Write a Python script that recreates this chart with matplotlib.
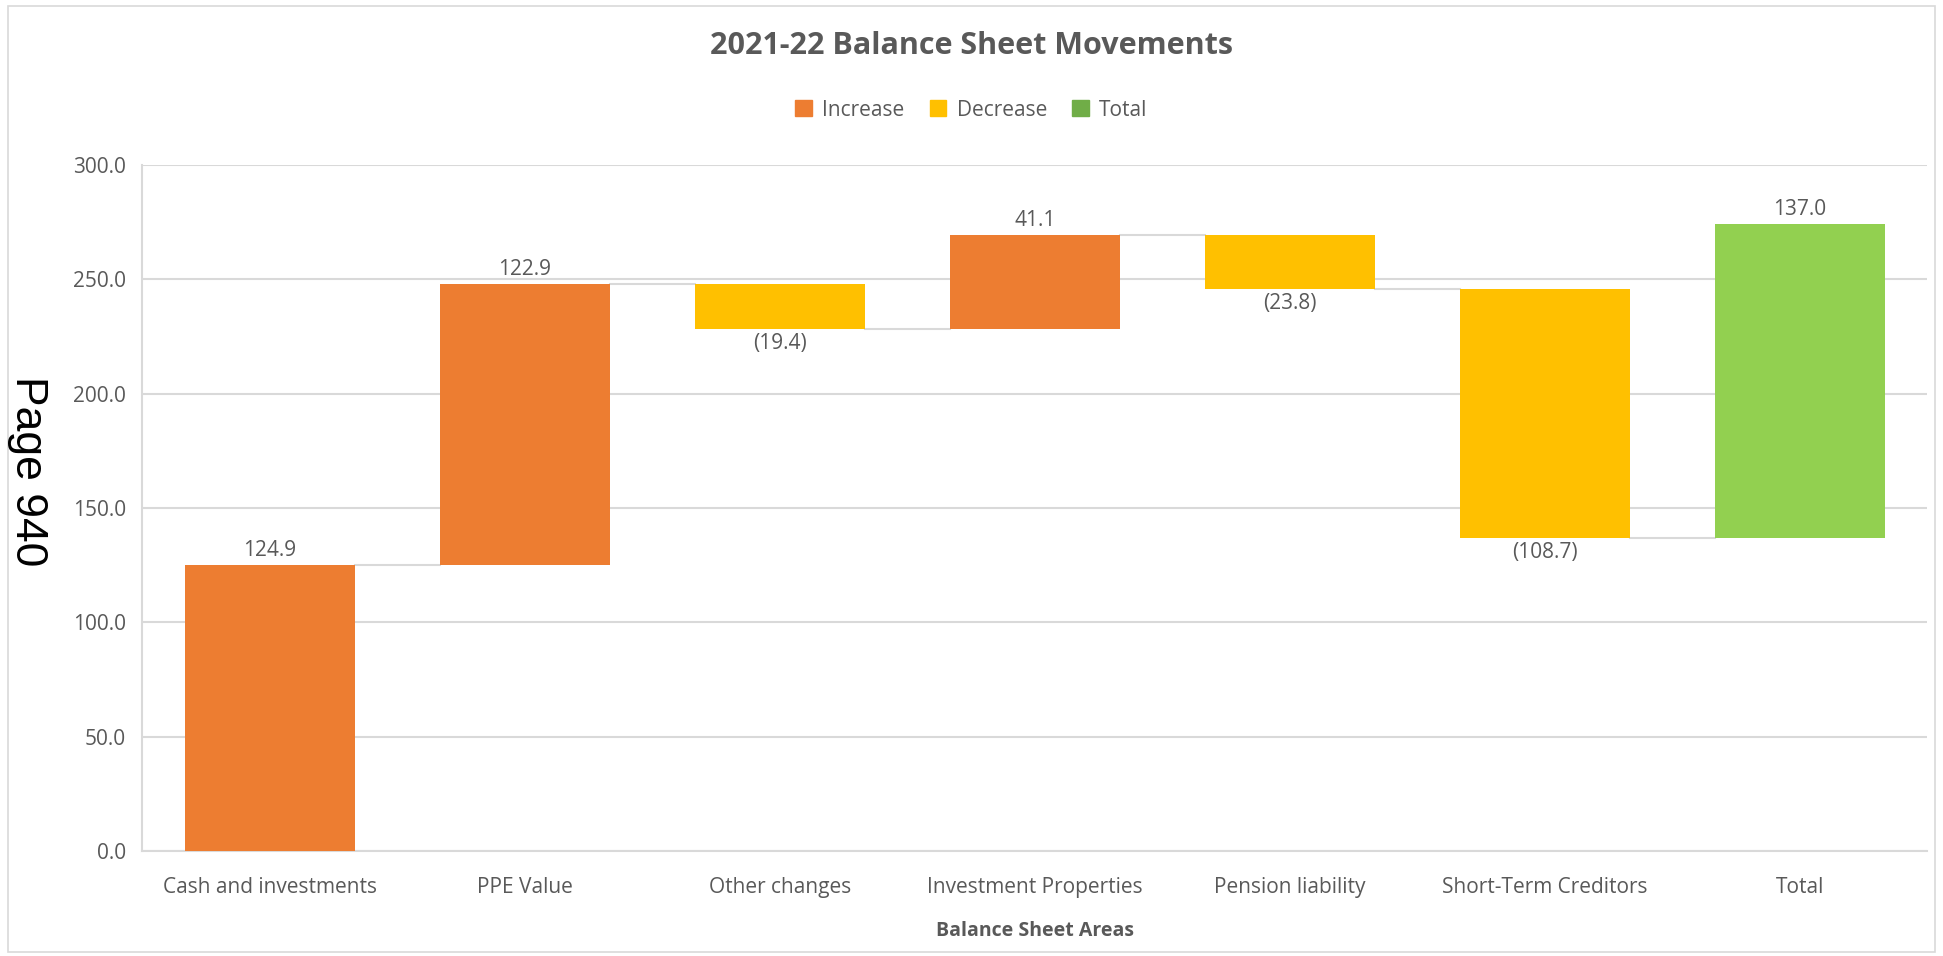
import matplotlib
matplotlib.use("Agg")
import matplotlib.pyplot as plt
from matplotlib.patches import Rectangle, Patch
import numpy as np

categories = ["Cash and investments", "PPE Value", "Other changes",
              "Investment Properties", "Pension liability",
              "Short-Term Creditors", "Total"]
movements = [124.9, 122.9, -19.4, 41.1, -23.8, -108.7]
total_value = 137.0
y_ticks = [0, 50, 100, 150, 200, 250, 300]

C_INC = "#ED7D31"
C_DEC = "#FFC000"
C_TOT_BAR = "#92D050"
C_TOT_LEG = "#70AD47"
TXT = "#595959"
GRID = "#D9D9D9"

plt.rcParams['font.family'] = ['Open Sans', 'DejaVu Sans']

fig = plt.figure(figsize=(19.43, 9.56), dpi=100)
ax = fig.add_axes([0.0733, 0.1098, 0.992 - 0.0733, 0.8274 - 0.1098])

# figure border
fig.patches.append(Rectangle((0.004, 0.004), 0.992, 0.990, transform=fig.transFigure,
                             fill=False, edgecolor="#D9D9D9", linewidth=1.2))

width = 0.665
x = np.arange(len(categories))
cum = np.concatenate([[0], np.cumsum(movements)])
levels = []
for i, m in enumerate(movements):
    start = cum[i]
    end = cum[i + 1]
    bottom = min(start, end)
    color = C_INC if m >= 0 else C_DEC
    ax.bar(x[i], abs(m), bottom=bottom, width=width, color=color, zorder=3)
    if m >= 0:
        ax.annotate(f"{m:.1f}", (x[i], end), xytext=(0, 3), textcoords="offset points",
                    ha="center", va="bottom", fontsize=15, color=TXT)
    else:
        ax.annotate(f"({abs(m):.1f})", (x[i], end), xytext=(0, -3), textcoords="offset points",
                    ha="center", va="top", fontsize=15, color=TXT)
    levels.append(end)

# total bar (drawn on top of the running end level, as in the source)
ti = len(categories) - 1
ax.bar(x[ti], total_value, bottom=cum[-1], width=width, color=C_TOT_BAR, zorder=3)
ax.annotate(f"{total_value:.1f}", (x[ti], cum[-1] + total_value), xytext=(0, 3),
            textcoords="offset points", ha="center", va="bottom", fontsize=15, color=TXT)

# connectors
for i, lv in enumerate(levels):
    ax.plot([x[i] + width / 2, x[i + 1] - width / 2], [lv, lv], color=GRID,
            linewidth=1.5, zorder=2)

ax.set_xlim(-0.5, len(categories) - 0.5)
ax.set_ylim(0, 300)
ax.set_yticks(y_ticks)
ax.set_yticklabels([f"{v:.1f}" for v in y_ticks])
ax.set_xticks(x)
ax.set_xticklabels(categories)
ax.tick_params(axis="both", length=0, colors=TXT, labelsize=15)
ax.tick_params(axis="x", pad=19)
ax.tick_params(axis="y", pad=12)
ax.grid(axis="y", color=GRID, linewidth=1.5, zorder=0)
ax.set_axisbelow(True)
for s in ["top", "right"]:
    ax.spines[s].set_visible(False)
ax.spines["left"].set_color(GRID)
ax.spines["left"].set_linewidth(1.5)
ax.spines["bottom"].set_color(GRID)
ax.spines["bottom"].set_linewidth(1.5)

ax.set_xlabel("Balance Sheet Areas", fontsize=14, fontweight="bold", color=TXT, labelpad=16)

fig.text(0.5, 1 - 46 / 956, "2021-22 Balance Sheet Movements", ha="center", va="center",
         fontsize=22, fontweight="bold", color=TXT)

handles = [Patch(color=C_INC, label="Increase"), Patch(color=C_DEC, label="Decrease"),
           Patch(color=C_TOT_LEG, label="Total")]
fig.legend(handles=handles, loc="center", bbox_to_anchor=(0.5, 1 - 110 / 956), ncol=3,
           frameon=False, fontsize=15, handlelength=0.8, handleheight=0.8,
           handletextpad=0.5, columnspacing=1.2, labelcolor=TXT)

fig.text(27 / 1943, 1 - 471 / 956, "Page 940", rotation=-90, ha="center", va="center",
         fontsize=32, color="black", family=["Liberation Sans", "DejaVu Sans"])

fig.savefig("out.png", dpi=100, facecolor="white")
